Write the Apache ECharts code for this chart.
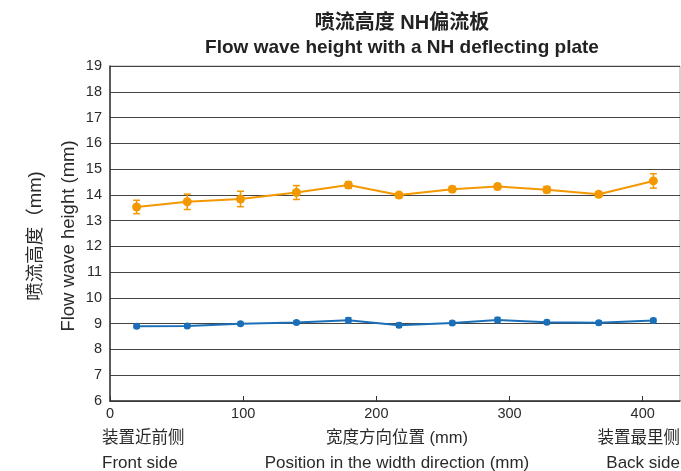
<!DOCTYPE html>
<html>
<head>
<meta charset="utf-8">
<script src="https://cdn.jsdelivr.net/npm/echarts@6/dist/echarts.min.js"></script>
<style>
html,body{margin:0;padding:0;background:#fff;}
#main{width:681px;height:471px;}
</style>
</head>
<body>
<div id="main"></div>
<script>
const xPositions = [20, 58, 98, 140, 179, 217, 257, 291, 328, 367, 408];
const orangeValues = [13.53, 13.73, 13.84, 14.09, 14.38, 13.99, 14.22, 14.32, 14.2, 14.02, 14.54];
const orangeErrors = [0.26, 0.3, 0.3, 0.27, 0.12, 0.1, 0.1, 0.1, 0.12, 0.1, 0.28];
const blueValues = [8.9, 8.91, 9.0, 9.05, 9.13, 8.94, 9.03, 9.14, 9.06, 9.04, 9.12];
const blueErrors = [0.06, 0.06, 0.06, 0.06, 0.1, 0.08, 0.06, 0.1, 0.07, 0.07, 0.08];
const titleZh = '喷流高度 NH偏流板';
const titleEn = 'Flow wave height with a NH deflecting plate';
const yTitleZh = '喷流高度（mm)';
const yTitleEn = 'Flow wave height (mm)';
const xLabelsZh = ['装置近前侧', '宽度方向位置 (mm)', '装置最里侧'];
const xLabelsEn = ['Front side', 'Position in the width direction (mm)', 'Back side'];

const ORANGE = '#F39800';
const BLUE = '#1B6FB8';
const FONT = '"Liberation Sans", "Noto Sans CJK SC", sans-serif';
const TEXT = '#2a2a2a';

function pairs(xs, ys) { return xs.map((x, i) => [x, ys[i]]); }
function errData(xs, ys, es) { return xs.map((x, i) => [x, ys[i] - es[i], ys[i] + es[i]]); }

function errorBarSeries(data, color, capHalf) {
  return {
    type: 'custom',
    data: data,
    z: 3,
    renderItem: function (params, api) {
      const x = api.value(0);
      const lo = api.coord([x, api.value(1)]);
      const hi = api.coord([x, api.value(2)]);
      const st = { stroke: color, lineWidth: 1.5 };
      return {
        type: 'group',
        children: [
          { type: 'line', shape: { x1: hi[0], y1: hi[1], x2: lo[0], y2: lo[1] }, style: st },
          { type: 'line', shape: { x1: hi[0] - capHalf, y1: hi[1], x2: hi[0] + capHalf, y2: hi[1] }, style: st },
          { type: 'line', shape: { x1: lo[0] - capHalf, y1: lo[1], x2: lo[0] + capHalf, y2: lo[1] }, style: st }
        ]
      };
    },
    encode: { x: 0, y: [1, 2] },
    silent: true
  };
}

const chart = echarts.init(document.getElementById('main'), null, { renderer: 'canvas' });

function txt(x, y, text, align, size, rot) {
  const el = {
    type: 'text', x: x, y: y,
    style: { text: text, fill: TEXT, font: size + 'px ' + FONT, textAlign: align, textVerticalAlign: 'middle' }
  };
  if (rot) el.rotation = rot;
  return el;
}

chart.setOption({
  animation: false,
  backgroundColor: '#fff',
  title: [
    {
      text: titleZh, left: 397, textAlign: 'center', top: 8,
      textStyle: { fontFamily: FONT, fontWeight: 'bold', fontSize: 20, color: '#222' }
    },
    {
      text: titleEn, left: 397, textAlign: 'center', top: 33,
      textStyle: { fontFamily: FONT, fontWeight: 'bold', fontSize: 19, color: '#222' }
    }
  ],
  grid: {
    left: 110, right: 1, top: 66, bottom: 70,
    show: true, borderColor: '#aaa', borderWidth: 1
  },
  xAxis: {
    type: 'value', min: 0, max: 428, interval: 100,
    axisLine: { show: true, lineStyle: { color: '#333', width: 1.5 } },
    axisTick: { show: true, inside: true, length: 5, lineStyle: { color: '#333' } },
    axisLabel: { color: TEXT, fontFamily: FONT, fontSize: 14.5, margin: 6, showMaxLabel: false },
    splitLine: { show: false }
  },
  yAxis: {
    type: 'value', min: 6, max: 19, interval: 1,
    axisLine: { show: true, lineStyle: { color: '#333', width: 1.5 } },
    axisTick: { show: false },
    axisLabel: { color: TEXT, fontFamily: FONT, fontSize: 14.5, margin: 8 },
    splitLine: { show: true, lineStyle: { color: '#444', width: 1 } }
  },
  graphic: [
    txt(36, 236, yTitleZh, 'center', 18.5, Math.PI / 2),
    txt(69, 236, yTitleEn, 'center', 18.5, Math.PI / 2),
    txt(102, 438, xLabelsZh[0], 'left', 16.5),
    txt(397, 438, xLabelsZh[1], 'center', 16.5),
    txt(680, 438, xLabelsZh[2], 'right', 16.5),
    txt(102, 463, xLabelsEn[0], 'left', 17),
    txt(397, 463, xLabelsEn[1], 'center', 17),
    txt(680, 463, xLabelsEn[2], 'right', 17)
  ],
  series: [
    errorBarSeries(errData(xPositions, orangeValues, orangeErrors), ORANGE, 3.5),
    {
      type: 'line', data: pairs(xPositions, orangeValues), z: 4,
      symbol: 'circle', symbolSize: 9,
      lineStyle: { color: ORANGE, width: 2 },
      itemStyle: { color: ORANGE }
    },
    errorBarSeries(errData(xPositions, blueValues, blueErrors), BLUE, 3),
    {
      type: 'line', data: pairs(xPositions, blueValues), z: 4,
      symbol: 'circle', symbolSize: 7,
      lineStyle: { color: BLUE, width: 2 },
      itemStyle: { color: BLUE }
    }
  ]
});
</script>
</body>
</html>
